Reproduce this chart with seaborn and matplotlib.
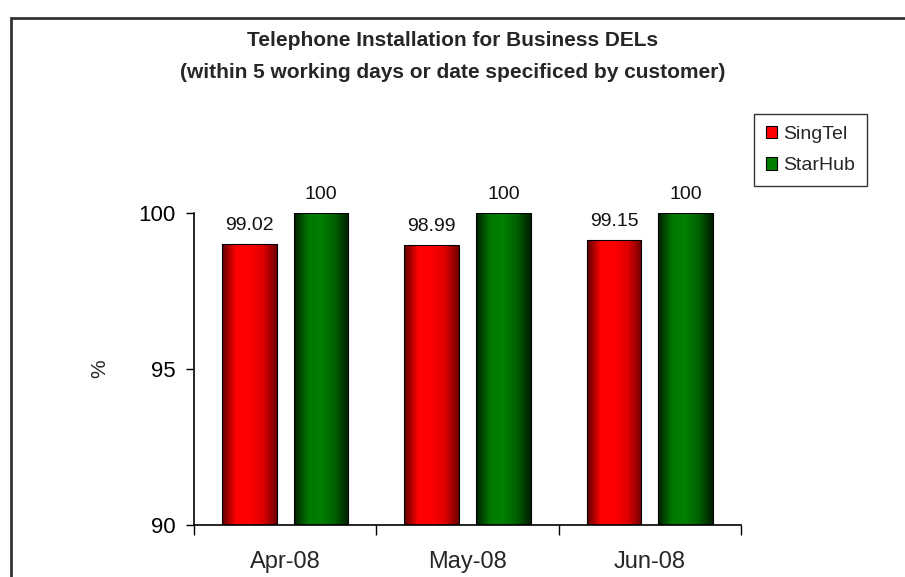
import numpy as np
import pandas as pd
import matplotlib
matplotlib.use("Agg")
import matplotlib.pyplot as plt
from matplotlib.colors import LinearSegmentedColormap
from matplotlib.patches import Patch, Rectangle
import seaborn as sns

# data
months = ["Apr-08", "May-08", "Jun-08"]
singtel = [99.02, 98.99, 99.15]
starhub = [100, 100, 100]
operators = ["SingTel", "StarHub"]

df = pd.DataFrame({
    "month": months * 2,
    "operator": ["SingTel"] * 3 + ["StarHub"] * 3,
    "pct": singtel + starhub,
})

sns.set_style("white")
plt.rcParams["font.family"] = ["Liberation Sans", "DejaVu Sans"]

colors = {"SingTel": "#ff0000", "StarHub": "#008000"}
# horizontal shading like the old excel bars
grad = {
    "SingTel": ["#600000", "#ff0000", "#ff0000", "#e00000", "#700000"],
    "StarHub": ["#002000", "#007800", "#008000", "#006000", "#002000"],
}
ymin, ymax = 90, 100

fig = plt.figure(figsize=(9.05, 5.77), dpi=100)
ax = fig.add_axes([194 / 905, 52 / 577, 547 / 905, 312 / 577])

sns.barplot(data=df, x="month", y="pct", hue="operator", hue_order=operators,
            palette=colors, width=0.787, gap=0.236, legend=False, ax=ax,
            edgecolor="black", linewidth=0.8, saturation=1)

# gradient fill clipped to each bar (only the part above the axis floor)
for cont, op in zip(ax.containers, operators):
    cmap = LinearSegmentedColormap.from_list(op, grad[op])
    for p in cont.patches:
        x, w = p.get_x(), p.get_width()
        top = p.get_y() + p.get_height()
        img = ax.imshow(np.linspace(0, 1, 64).reshape(1, -1), cmap=cmap,
                        extent=[x, x + w, ymin, top], aspect="auto",
                        zorder=p.get_zorder() + 0.1, interpolation="bilinear")
        img.set_clip_path(p)
        p.set_facecolor("none")
        p.set_zorder(p.get_zorder() + 0.2)
    ax.bar_label(cont, fmt="%g", padding=7, fontsize=14, color="#111111")

ax.set_xlim(-0.5, 2.5)
ax.set_ylim(ymin, ymax)
ax.set_yticks([90, 95, 100])
ax.tick_params(axis="y", direction="out", length=6, width=1, labelsize=16,
               left=True, pad=7, colors="black")
ax.tick_params(axis="x", which="major", length=0, labelsize=17, pad=19)
ax.set_xticks([-0.5, 0.5, 1.5, 2.5], minor=True)
ax.tick_params(axis="x", which="minor", direction="out", length=7, width=1,
               bottom=True, colors="black")
ax.set_xlabel("")
ax.set_ylabel("%", fontsize=15)
ax.yaxis.set_label_coords(-0.155, 0.5)

for s in ["top", "right"]:
    ax.spines[s].set_visible(False)
for s in ["left", "bottom"]:
    ax.spines[s].set_color("black")
    ax.spines[s].set_linewidth(1.2)
    ax.spines[s].set_zorder(5)

handles = [Patch(facecolor=colors[o], edgecolor="black", linewidth=0.8, label=o)
           for o in operators]
leg = ax.legend(handles=handles, loc="upper left",
                bbox_to_anchor=(754 / 905, 1 - 187 / 577, 113 / 905, 73 / 577),
                bbox_transform=fig.transFigure, mode="expand",
                fontsize=14, frameon=True, fancybox=False, borderpad=0.6,
                handlelength=0.6, handleheight=0.6, handletextpad=0.3,
                labelspacing=0.75, borderaxespad=0)
leg.get_frame().set_edgecolor("black")
leg.get_frame().set_linewidth(1)

fig.text(0.5, 1 - 40 / 577, "Telephone Installation for Business DELs",
         ha="center", va="center", fontsize=15, fontweight="bold")
fig.text(0.5, 1 - 72 / 577, "(within 5 working days or date specificed by customer)",
         ha="center", va="center", fontsize=15, fontweight="bold")

# outer chart border (cut off at bottom and right)
fig.patches.append(Rectangle((11 / 905, -0.1), 1.0, 1.1 - 18 / 577,
                             transform=fig.transFigure, fill=False,
                             edgecolor="#333333", linewidth=2))

fig.savefig("out.png", dpi=100)
